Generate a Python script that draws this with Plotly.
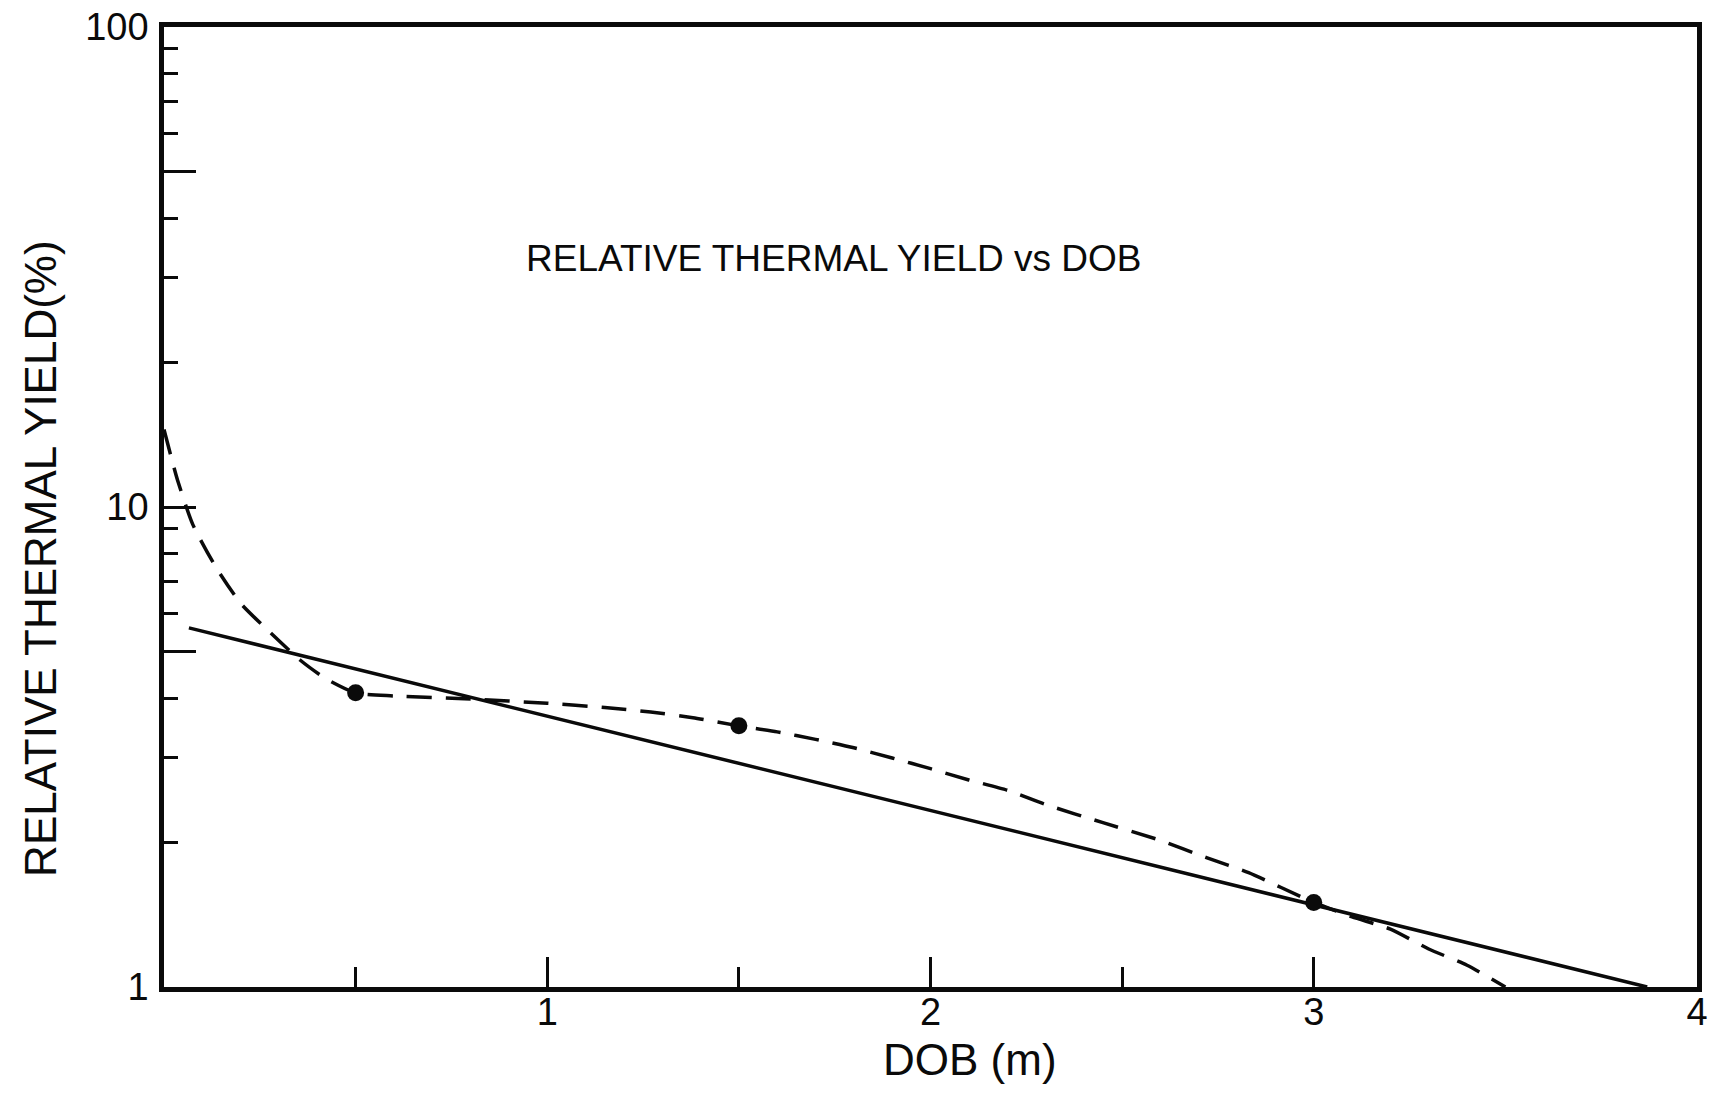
import plotly.graph_objects as go

# Straight-line fit (log scale): relative thermal yield vs depth of burst
dob_fit = [0.065, 3.87]
yield_fit = [5.6, 1.0]

# Dashed trend curve through the measurements
dob_curve = [0.0, 0.035, 0.075, 0.135, 0.2, 0.28, 0.355, 0.42, 0.5, 0.6, 0.8,
             1.0, 1.15, 1.27, 1.38, 1.5, 1.6, 1.7, 1.8, 1.9, 2.0, 2.1, 2.2,
             2.3, 2.45, 2.6, 2.72, 2.83, 3.0, 3.1, 3.2, 3.3, 3.4, 3.5]
yield_curve = [14.5, 11.4, 9.2, 7.5, 6.3, 5.45, 4.8, 4.4, 4.1, 4.04, 3.98,
               3.9, 3.82, 3.74, 3.64, 3.5, 3.4, 3.28, 3.15, 3.0, 2.85, 2.7, 2.57,
               2.4, 2.2, 2.02, 1.86, 1.73, 1.5, 1.4, 1.32, 1.2, 1.11, 1.0]

# Measured points
dob_measured = [0.5, 1.5, 3.0]
yield_measured = [4.1, 3.5, 1.5]

# Axis ticks
x_major = [1, 2, 3, 4]
x_major_text = ["1", "2", "3", "4"]
x_minor = [0.5, 1.5, 2.5]
y_major = [1, 5, 10, 50, 100]
y_major_text = ["1", "", "10", "", "100"]
y_minor = [2, 3, 4, 6, 7, 8, 9, 20, 30, 40, 60, 70, 80, 90]

FONT = "Liberation Sans, Arial, Helvetica, sans-serif"
INK = "#0a0a0a"

fig = go.Figure()

fig.add_trace(go.Scatter(
    x=dob_fit, y=yield_fit, mode="lines",
    line=dict(color=INK, width=3.5), showlegend=False, hoverinfo="skip",
))

fig.add_trace(go.Scatter(
    x=dob_curve, y=yield_curve, mode="lines",
    line=dict(color=INK, width=3.5, dash="25px,14px", shape="spline", smoothing=0.6),
    showlegend=False, hoverinfo="skip",
))

fig.add_trace(go.Scatter(
    x=dob_measured, y=yield_measured, mode="markers",
    marker=dict(color=INK, size=17, line=dict(width=0)),
    showlegend=False,
))

# Chart caption inside the plot area
fig.add_annotation(
    text="RELATIVE THERMAL YIELD vs DOB",
    xref="paper", yref="paper", x=0.437, y=0.759,
    xanchor="center", yanchor="middle", showarrow=False,
    font=dict(family=FONT, size=37, color=INK),
)

# Axis titles
fig.add_annotation(
    text="DOB (m)",
    xref="paper", yref="paper", x=0.526, y=-0.075,
    xanchor="center", yanchor="middle", showarrow=False,
    font=dict(family=FONT, size=44, color=INK),
)
fig.add_annotation(
    text="RELATIVE THERMAL YIELD(%)",
    xref="paper", yref="paper", x=-0.0802, y=0.446,
    xanchor="center", yanchor="middle", showarrow=False, textangle=-90,
    font=dict(family=FONT, size=44, color=INK),
)

fig.update_layout(
    width=1711, height=1108,
    margin=dict(l=164, r=14, t=27, b=121),
    paper_bgcolor="white", plot_bgcolor="white",
    font=dict(family=FONT, color=INK),
    xaxis=dict(
        range=[0, 4], showgrid=False, zeroline=False,
        showline=True, linewidth=4.5, linecolor=INK, mirror=True,
        ticks="inside", ticklen=30, tickwidth=3, tickcolor=INK,
        tickvals=x_major, ticktext=x_major_text,
        tickfont=dict(family=FONT, size=38, color=INK),
        ticklabelstandoff=-12,
        minor=dict(tickvals=x_minor, ticks="inside", ticklen=20,
                   tickwidth=3, tickcolor=INK, showgrid=False),
        automargin=False,
    ),
    yaxis=dict(
        type="log", range=[0, 2], showgrid=False, zeroline=False,
        showline=True, linewidth=4.5, linecolor=INK, mirror=True,
        ticks="inside", ticklen=32, tickwidth=3, tickcolor=INK,
        tickvals=y_major, ticktext=y_major_text,
        tickfont=dict(family=FONT, size=38, color=INK),
        ticklabelstandoff=3,
        minor=dict(tickvals=y_minor, ticks="inside", ticklen=14,
                   tickwidth=3, tickcolor=INK, showgrid=False),
        automargin=False,
    ),
)

fig.write_html("out.html")
